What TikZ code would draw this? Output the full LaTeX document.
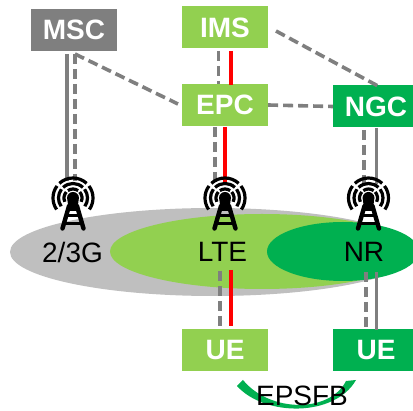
\documentclass[tikz,border=0pt]{standalone}
\usepackage{fontspec}
\setmainfont{Liberation Sans}
\definecolor{lg}{HTML}{92D050}
\definecolor{dg}{HTML}{00B050}
\definecolor{gr}{HTML}{7F7F7F}
\definecolor{cg}{HTML}{BFBFBF}
\tikzset{
  box/.style={minimum width=86pt,minimum height=42pt,inner sep=0pt,text=white,font=\fontsize{28}{28}\selectfont\bfseries},
  solidg/.style={draw=gr,line width=3.5pt},
  dashg/.style={draw=gr,line width=3.6pt,dash pattern=on 10pt off 5pt},
  redl/.style={draw=red,line width=3.5pt},
  lab/.style={text=black,inner sep=0pt,font=\fontsize{28}{28}\selectfont},
  ring/.style={black,line width=3.2pt},
}
\newcommand{\mast}[2]{%
  \begin{scope}[shift={(#1,#2)}]
    \foreach \r in {20,14.5}{
      \draw[ring] (0,0) ++(37:\r pt) arc[start angle=37,end angle=-35,radius=\r pt];
      \draw[ring] (0,0) ++(143:\r pt) arc[start angle=143,end angle=215,radius=\r pt];
      \draw[ring] (0,0) ++(47:\r pt) arc[start angle=47,end angle=133,radius=\r pt];
    }
    \draw[ring] (0,0) ++(42:9pt) arc[start angle=42,end angle=-25,radius=9pt];
    \draw[ring] (0,0) ++(138:9pt) arc[start angle=138,end angle=205,radius=9pt];
    \draw[ring] (0,0) ++(55:9pt) arc[start angle=55,end angle=125,radius=9pt];
    \fill[black] (0,0) circle[radius=6pt];
    \fill[black] (-5.5,2) -- (5.5,2) -- (4.5,13) -- (-4.5,13) -- cycle;
    \draw[black,line width=4.4pt,line cap=round] (-4,8) -- (-10.5,30.5);
    \draw[black,line width=4.4pt,line cap=round] (4,8) -- (10.5,30.5);
    \draw[black,line width=3pt] (-7,17.5) -- (7,17.5);
    \draw[black,line width=3pt] (-9,25.5) -- (9,25.5);
  \end{scope}}
\begin{document}
\begin{tikzpicture}[x=1pt,y=-1pt]
\useasboundingbox (0,0) rectangle (413,411);
\clip (0,0) rectangle (413,411);
\fill[cg] (213,252) ellipse[x radius=203pt,y radius=44pt];
\fill[lg] (262,251.5) ellipse[x radius=152pt,y radius=37.5pt];
\fill[dg] (343,251.5) ellipse[x radius=76pt,y radius=29.5pt];
\node[box,fill=gr] (msc) at (74,30) {MSC};
\node[box,fill=lg] (ims) at (225,27.5) {IMS};
\node[box,fill=lg] (epc) at (225,105) {EPC};
\node[box,fill=dg] (ngc) at (376,106.5) {NGC};
\node[box,fill=lg] (ue1) at (225,350.5) {UE};
\node[box,fill=dg] (ue2) at (376,350.5) {UE};
\node[lab] (g23) at (72.5,252) {2/3G};
\node[lab] (lte) at (222.5,252) {LTE};
\node[lab] (nr) at (364,252) {NR};
\draw[solidg] (67,54) -- (67,181);
\draw[dashg] (75,54) -- (75,181);
\draw[dashg] (75,54) -- (178,104);
\draw[dashg] (218.5,51) -- (218.5,84);
\draw[redl] (231,51) -- (231,85);
\draw[dashg] (215,127) -- (215,182);
\draw[redl] (225,127) -- (225,184);
\draw[dashg] (276,31) -- (378,86);
\draw[dashg] (epc.east) -- (ngc.west);
\draw[dashg] (364,130) -- (364,185);
\draw[solidg] (376.5,128) -- (376.5,184);
\draw[dashg] (220,271) -- (220,326);
\draw[redl] (231,270) -- (231,326);
\draw[dashg] (366,272) -- (366,328);
\draw[solidg] (376.5,272) -- (376.5,330);
\mast{73}{198}
\mast{225}{198}
\mast{368.5}{198}
\fill[dg] (237,386) -- (243,380) .. controls (270,413) and (330,413) .. (346,381) -- (356,380) .. controls (335,417) and (265,417) .. (237,386) -- cycle;
\node[lab] (eps) at (302,395.5) {EPSFB};
\end{tikzpicture}
\end{document}
